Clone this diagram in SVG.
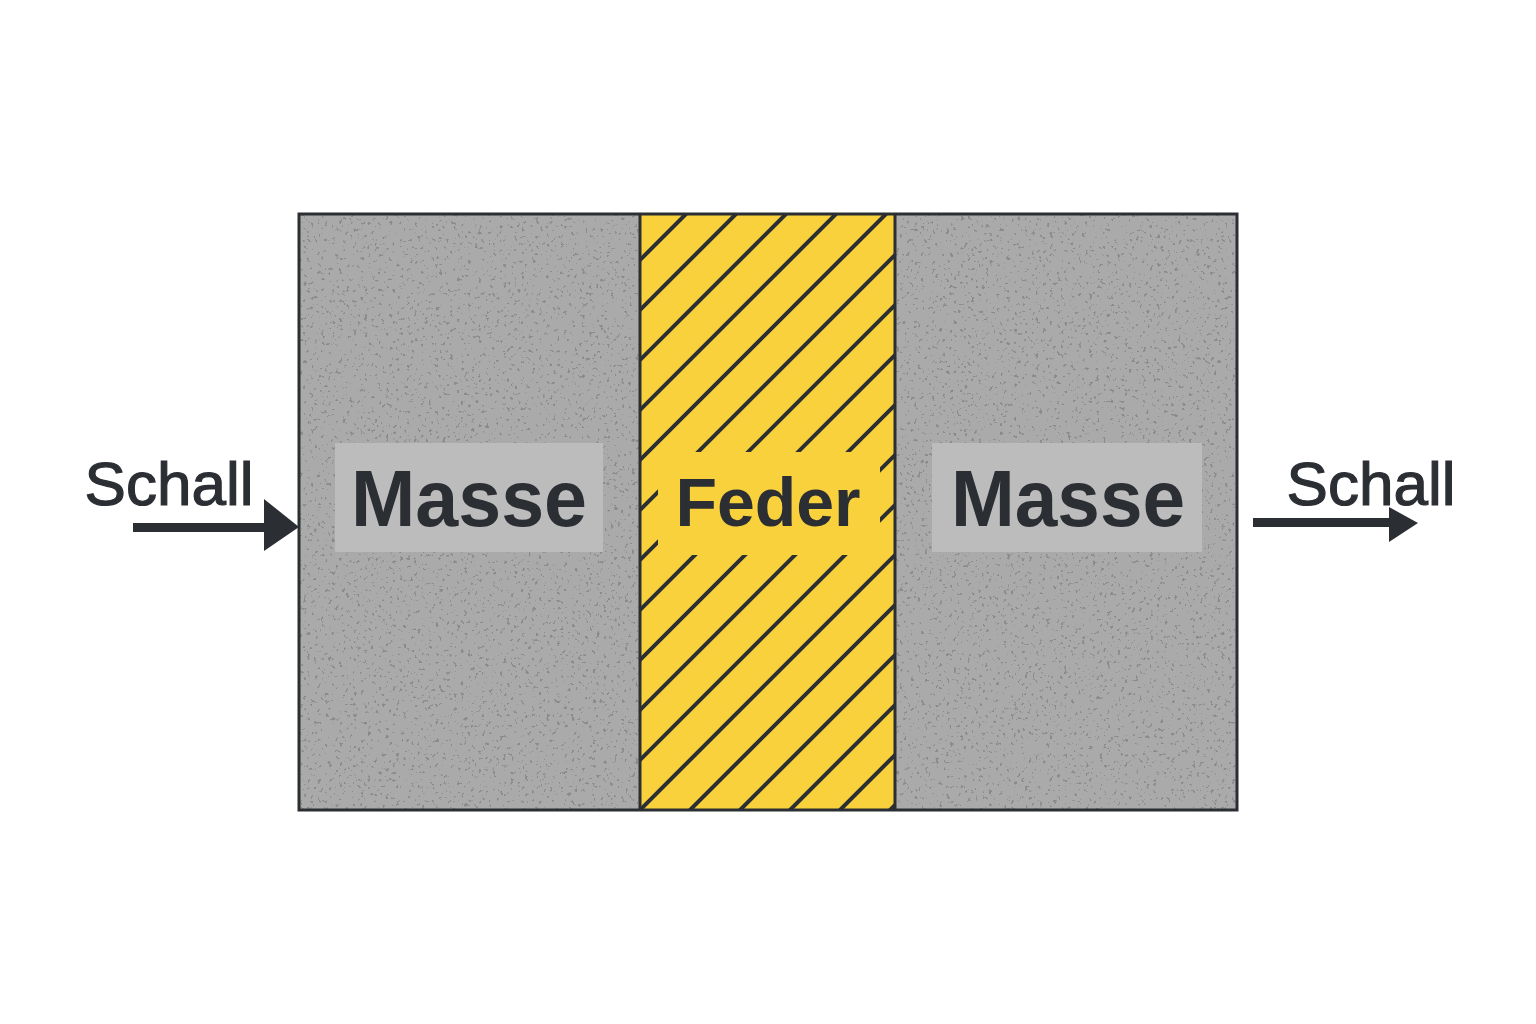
<svg xmlns="http://www.w3.org/2000/svg" width="1536" height="1024" viewBox="0 0 1536 1024">
  <style>
    .ink { fill: #2b2e33; }
    .lbl { font-family: "Liberation Sans", Arial, sans-serif; font-weight: bold; fill: #2b2e33; text-anchor: middle; }
    .snd { font-family: "Liberation Sans", Arial, sans-serif; font-size: 62px; fill: #2b2e33; stroke: #2b2e33; stroke-width: 1.2; text-anchor: middle; }
    .edge { fill: none; stroke: #2b2e33; stroke-width: 3; }
    .hatch { stroke: #2b2e33; stroke-width: 4; }
    .mass { fill: #aaaaaa; }
    .masslbl { fill: #bcbcbc; }
  </style>
  <defs>
    <filter id="speckle" x="0" y="0" width="100%" height="100%" filterUnits="objectBoundingBox" color-interpolation-filters="sRGB">
      <feTurbulence type="fractalNoise" baseFrequency="0.28" numOctaves="2" seed="7" result="n"/>
      <feColorMatrix in="n" type="matrix" values="0 0 0 0 0.52  0 0 0 0 0.52  0 0 0 0 0.52  3 0 0 0 -1.2" result="m"/>
      <feComponentTransfer in="m" result="d">
        <feFuncA type="discrete" tableValues="0 0 0 0 0 0 0 0 0.55 0.85"/>
      </feComponentTransfer>
      <feComposite in="d" in2="SourceGraphic" operator="in"/>
    </filter>
    <clipPath id="featherClip">
      <rect x="641" y="214" width="254" height="596"/>
    </clipPath>
  </defs>
  <rect width="1536" height="1024" fill="#ffffff"/>

  <g id="masse-links">
    <rect class="mass" x="299" y="214" width="341" height="596"/>
    <rect x="299" y="214" width="341" height="596" fill="#000" filter="url(#speckle)"/>
    <rect class="masslbl" x="335" y="443" width="268" height="109"/>
    <text class="lbl" x="469" y="526" font-size="80" textLength="236" lengthAdjust="spacingAndGlyphs">Masse</text>
  </g>

  <g id="feder">
    <rect x="640" y="214" width="255" height="596" fill="#f8d13d"/>
    <g clip-path="url(#featherClip)" class="hatch">
      <line x1="400" y1="500" x2="1000" y2="-100"/>
      <line x1="400" y1="550" x2="1000" y2="-50"/>
      <line x1="400" y1="600" x2="1000" y2="0"/>
      <line x1="400" y1="650" x2="1000" y2="50"/>
      <line x1="400" y1="700" x2="1000" y2="100"/>
      <line x1="400" y1="750" x2="1000" y2="150"/>
      <line x1="400" y1="800" x2="1000" y2="200"/>
      <line x1="400" y1="850" x2="1000" y2="250"/>
      <line x1="400" y1="900" x2="1000" y2="300"/>
      <line x1="400" y1="950" x2="1000" y2="350"/>
      <line x1="400" y1="1000" x2="1000" y2="400"/>
      <line x1="400" y1="1050" x2="1000" y2="450"/>
      <line x1="400" y1="1100" x2="1000" y2="500"/>
      <line x1="400" y1="1150" x2="1000" y2="550"/>
      <line x1="400" y1="1200" x2="1000" y2="600"/>
      <line x1="400" y1="1250" x2="1000" y2="650"/>
      <line x1="400" y1="1300" x2="1000" y2="700"/>
    </g>
    <rect x="658" y="452" width="222" height="103" fill="#f8d13d"/>
    <text class="lbl" x="768" y="526" font-size="68">Feder</text>
  </g>

  <g id="masse-rechts">
    <rect class="mass" x="895" y="214" width="342" height="596"/>
    <rect x="895" y="214" width="342" height="596" fill="#000" filter="url(#speckle)"/>
    <rect class="masslbl" x="932" y="443" width="270" height="109"/>
    <text class="lbl" x="1068" y="526" font-size="80" textLength="234" lengthAdjust="spacingAndGlyphs">Masse</text>
  </g>

  <g id="rahmen">
    <rect class="edge" x="299" y="214" width="938" height="596"/>
    <line class="edge" x1="640" y1="214" x2="640" y2="810"/>
    <line class="edge" x1="895" y1="214" x2="895" y2="810"/>
  </g>

  <g id="schall-ein">
    <text class="snd" x="169" y="505">Schall</text>
  </g>
  <g id="schall-aus">
    <text class="snd" x="1371" y="505">Schall</text>
  </g>

  <g id="connectors">
    <path class="ink" d="M133,523 L264,523 L264,499 L299,527 L264,551 L264,532 L133,532 Z"/>
    <path class="ink" d="M1253,518 L1389,518 L1389,507 L1418,523 L1389,542 L1389,527 L1253,527 Z"/>
  </g>
</svg>
